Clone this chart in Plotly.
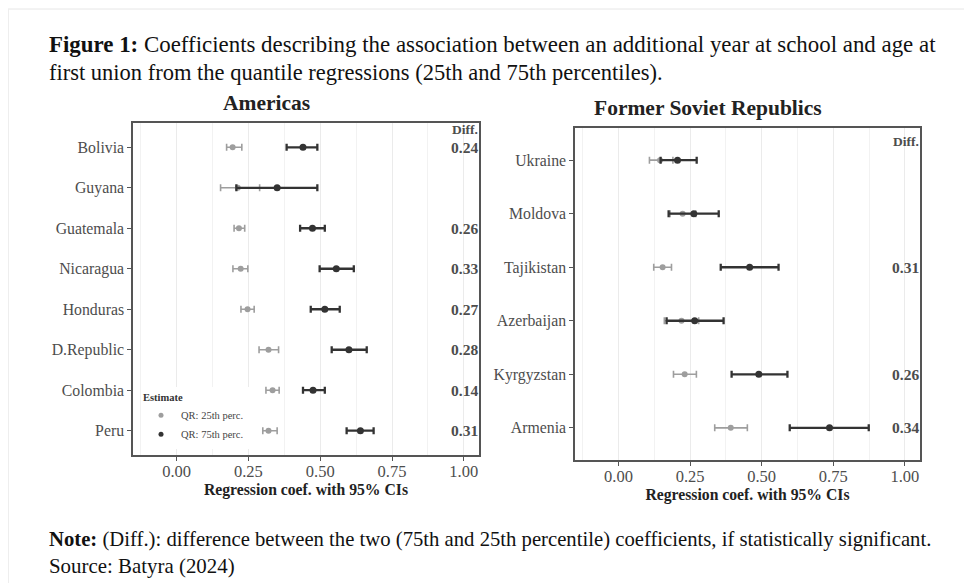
import plotly.graph_objects as go

FONT = "Liberation Serif"

# ---------------- data ----------------
am_countries = ["Bolivia", "Guyana", "Guatemala", "Nicaragua", "Honduras", "D.Republic", "Colombia", "Peru"]
am_q25 = [0.195, 0.213, 0.217, 0.223, 0.247, 0.320, 0.334, 0.320]
am_q25_lo = [0.174, 0.153, 0.200, 0.196, 0.224, 0.287, 0.311, 0.300]
am_q25_hi = [0.227, 0.289, 0.237, 0.248, 0.270, 0.355, 0.357, 0.350]
am_q75 = [0.440, 0.350, 0.473, 0.556, 0.516, 0.600, 0.475, 0.640]
am_q75_lo = [0.383, 0.208, 0.430, 0.498, 0.467, 0.540, 0.440, 0.592]
am_q75_hi = [0.490, 0.490, 0.516, 0.617, 0.568, 0.662, 0.516, 0.686]
am_diff = ["0.24", "", "0.26", "0.33", "0.27", "0.28", "0.14", "0.31"]

fs_countries = ["Ukraine", "Moldova", "Tajikistan", "Azerbaijan", "Kyrgyzstan", "Armenia"]
fs_q25 = [0.145, 0.224, 0.154, 0.220, 0.231, 0.392]
fs_q25_lo = [0.108, 0.180, 0.123, 0.160, 0.192, 0.336]
fs_q25_hi = [0.190, 0.270, 0.185, 0.280, 0.272, 0.450]
fs_q75 = [0.206, 0.263, 0.458, 0.266, 0.490, 0.737]
fs_q75_lo = [0.147, 0.175, 0.357, 0.168, 0.395, 0.598]
fs_q75_hi = [0.273, 0.350, 0.559, 0.367, 0.590, 0.874]
fs_diff = ["", "", "0.31", "", "0.26", "0.34"]

x_ticks = [0.0, 0.25, 0.5, 0.75, 1.0]
x_ticklabels = ["0.00", "0.25", "0.50", "0.75", "1.00"]
series_names = ["QR: 25th perc.", "QR: 75th perc."]

GRAY = "#9e9e9e"
DARK = "#333333"

fig = go.Figure()


def add_panel(countries, q25, lo25, hi25, q75, lo75, hi75, xa, ya):
    for name, c, lo, hi, col, ms, th in [
        (series_names[0], q25, lo25, hi25, GRAY, 6, 1.6),
        (series_names[1], q75, lo75, hi75, DARK, 7, 2.3),
    ]:
        fig.add_trace(go.Scatter(
            x=c, y=countries, mode="markers", name=name,
            marker=dict(color=col, size=ms),
            error_x=dict(type="data", symmetric=False,
                         array=[h - v for h, v in zip(hi, c)],
                         arrayminus=[v - l for v, l in zip(c, lo)],
                         color=col, thickness=th, width=3.5),
            xaxis=xa, yaxis=ya, showlegend=False,
        ))


add_panel(am_countries, am_q25, am_q25_lo, am_q25_hi, am_q75, am_q75_lo, am_q75_hi, "x", "y")
add_panel(fs_countries, fs_q25, fs_q25_lo, fs_q25_hi, fs_q75, fs_q75_lo, fs_q75_hi, "x2", "y2")

# legend keys (small dots, as in the reference legend)
for name, col in zip(series_names, [GRAY, DARK]):
    fig.add_trace(go.Scatter(x=[None], y=[None], mode="markers", name=name,
                             marker=dict(color=col, size=5), xaxis="x", yaxis="y", showlegend=True))

# page has an 8px body margin: figure pixel = page pixel - 8
OFF = 8
W, H = 964, 578


def px(p):
    return (p - OFF) / W


def py(p):
    return 1 - (p - OFF) / H


def dom_x(a, b):
    return [px(a), px(b)]


def dom_y(top, bottom):
    return [py(bottom), py(top)]


xcommon = dict(
    range=[-0.152, 1.053], tickvals=x_ticks, ticktext=x_ticklabels,
    showgrid=True, gridcolor="#ebebeb", gridwidth=1,
    minor=dict(dtick=0.125, tick0=0.125, showgrid=True, gridcolor="#f2f2f2", gridwidth=1),
    zeroline=False, showline=True, linecolor="#555555", linewidth=1.5, mirror=True,
    ticks="outside", ticklen=4, tickcolor="#555555", ticklabelstandoff=-4,
    tickfont=dict(family=FONT, size=16.5, color="#4d4d4d"),
    title=dict(text="<b>Regression coef. with 95% CIs</b>",
               font=dict(family=FONT, size=15.7, color="#222222"), standoff=0),
)
ycommon = dict(
    showgrid=False, zeroline=False, showline=True, linecolor="#555555", linewidth=1.5, mirror=True,
    ticks="outside", ticklen=4, tickcolor="#555555",
    tickfont=dict(family=FONT, size=15.8, color="#4d4d4d"),
)

fig.update_layout(
    width=W, height=H, margin=dict(l=0, r=0, t=0, b=0),
    paper_bgcolor="white", plot_bgcolor="white",
    xaxis=dict(domain=dom_x(133, 479), anchor="y", **xcommon),
    yaxis=dict(domain=dom_y(123, 455), anchor="x", type="category",
               categoryorder="array", categoryarray=am_countries[::-1],
               range=[-0.6, len(am_countries) - 0.4], **ycommon),
    xaxis2=dict(domain=dom_x(575, 920), anchor="y2", **xcommon),
    yaxis2=dict(domain=dom_y(128, 460), anchor="x2", type="category",
                categoryorder="array", categoryarray=fs_countries[::-1],
                range=[-0.6, len(fs_countries) - 0.4], **ycommon),
    legend=dict(x=px(141), y=py(387), xanchor="left", yanchor="top",
                bgcolor="white", borderwidth=0,
                title=dict(text="<b>Estimate</b>", font=dict(family=FONT, size=10.5, color="#333333")),
                font=dict(family=FONT, size=10.5, color="#444444"),
                itemwidth=30, tracegroupgap=0),
    showlegend=True,
)

ann = []
# Diff labels
for xr, yr, countries, diffs in [("x domain", "y", am_countries, am_diff), ("x2 domain", "y2", fs_countries, fs_diff)]:
    for c, d in zip(countries, diffs):
        if d:
            ann.append(dict(x=1.0, y=c, xref=xr, yref=yr, text="<b>%s</b>" % d, showarrow=False,
                            xanchor="right", yanchor="middle", xshift=1,
                            font=dict(family=FONT, size=15.5, color="#4d4d4d")))
ann.append(dict(x=1.0, y=1.0, xref="x domain", yref="y domain", text="<b>Diff.</b>", showarrow=False,
                xanchor="right", yanchor="top", yshift=3, xshift=1,
                font=dict(family=FONT, size=13.5, color="#4d4d4d")))
ann.append(dict(x=1.0, y=1.0, xref="x2 domain", yref="y2 domain", text="<b>Diff.</b>", showarrow=False,
                xanchor="right", yanchor="top", yshift=-4, xshift=1,
                font=dict(family=FONT, size=13.5, color="#4d4d4d")))

# Panel titles
ann.append(dict(x=px(266), y=py(103), xref="paper", yref="paper", text="<b>Americas</b>", showarrow=False,
                xanchor="center", yanchor="middle", font=dict(family=FONT, size=21.5, color="#222222")))
ann.append(dict(x=px(708), y=py(108), xref="paper", yref="paper", text="<b>Former Soviet Republics</b>",
                showarrow=False, xanchor="center", yanchor="middle",
                font=dict(family=FONT, size=21.5, color="#222222")))

# Figure caption and note
caption = [
    ("<b>Figure 1:</b> Coefficients describing the association between an additional year at school and age at", 45, 22.9),
    ("first union from the quantile regressions (25th and 75th percentiles).", 72, 22.5),
    ("<b>Note:</b> (Diff.): difference between the two (75th and 25th percentile) coefficients, if statistically significant.", 539, 20.7),
    ("Source: Batyra (2024)", 566, 20.9),
]
for txt, yy, fsz in caption:
    ann.append(dict(x=px(47), y=py(yy), xref="paper", yref="paper", text=txt, showarrow=False,
                    xanchor="left", yanchor="middle", align="left",
                    font=dict(family=FONT, size=fsz, color="#111111")))

fig.update_layout(annotations=ann)

# faint screenshot frame
fig.add_shape(type="line", xref="paper", yref="paper", x0=px(8), x1=1, y0=py(9), y1=py(9),
              line=dict(color="#e6e6e6", width=1))
fig.add_shape(type="line", xref="paper", yref="paper", x0=px(8.5), x1=px(8.5), y0=py(583), y1=py(9),
              line=dict(color="#eeeeee", width=1))

fig.write_html("out.html")
